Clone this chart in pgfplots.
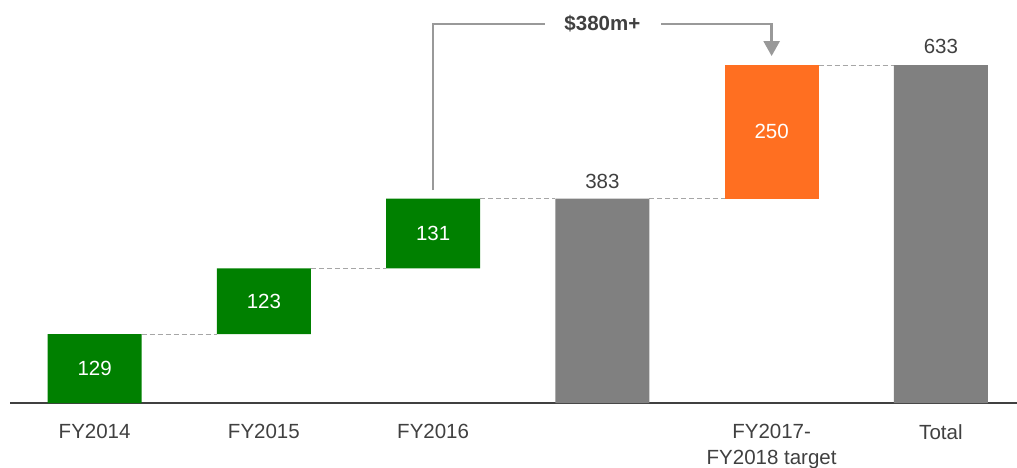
\documentclass[border=0pt]{standalone}
\usepackage{pgfplots}
\pgfplotsset{compat=1.18}
\usetikzlibrary{arrows.meta}
\usepackage{fontspec}
\setmainfont{Liberation Sans}
\definecolor{wgreen}{HTML}{008000}
\definecolor{wgrey}{HTML}{808080}
\definecolor{worange}{HTML}{FF6F21}
\definecolor{labelgray}{HTML}{404040}
\definecolor{dashgray}{HTML}{A6A6A6}
\definecolor{bracketgray}{HTML}{999999}
\tikzset{conn/.style={dashgray, line width=1pt, dash pattern=on 5pt off 3pt},
  vlab/.style={font=\fontsize{20.5}{24}\selectfont}}
\begin{document}
\begin{tikzpicture}
\begin{axis}[
  at={(0,0)}, anchor=south west,
  scale only axis, width=1007pt, height=403pt,
  xmin=-0.5, xmax=5.45, ymin=0, ymax=755,
  ybar stacked, bar width=94pt,
  axis x line*=bottom, hide y axis,
  x axis line style={draw=labelgray, line width=1.6pt},
  xtick={0,1,2,3,4,5},
  xticklabels={FY2014,FY2015,FY2016,{},{FY2017-\\FY2018 target},Total},
  xticklabel style={align=center, font=\fontsize{20.5}{26}\selectfont, text=labelgray, yshift=-18pt},
  major tick length=0pt,
  clip=false,
]
\addplot[draw=none, fill=none] coordinates {(0,0) (1,129) (2,252) (3,0) (4,383) (5,0)};
\addplot[draw=none, fill=wgreen] coordinates {(0,129) (1,123) (2,131) (3,0) (4,0) (5,0)};
\addplot[draw=none, fill=wgrey] coordinates {(0,0) (1,0) (2,0) (3,383) (4,0) (5,633)};
\addplot[draw=none, fill=worange] coordinates {(0,0) (1,0) (2,0) (3,0) (4,250) (5,0)};

\draw[conn] ([xshift=47pt]axis cs:0,129) -- ([xshift=-47pt]axis cs:1,129);
\draw[conn] ([xshift=47pt]axis cs:1,252) -- ([xshift=-47pt]axis cs:2,252);
\draw[conn] ([xshift=47pt]axis cs:2,383) -- ([xshift=-47pt]axis cs:3,383);
\draw[conn] ([xshift=47pt]axis cs:3,383) -- ([xshift=-47pt]axis cs:4,383);
\draw[conn] ([xshift=47pt]axis cs:4,633) -- ([xshift=-47pt]axis cs:5,633);

\coordinate (L1) at (axis cs:0,64.5);
\coordinate (L2) at (axis cs:1,190.5);
\coordinate (L3) at (axis cs:2,317.5);
\coordinate (L5) at (axis cs:4,508);
\coordinate (L4) at (axis cs:3,383);
\coordinate (L6) at (axis cs:5,633);

\draw[bracketgray, line width=2.6pt] (axis cs:2,399) -- (axis cs:2,710) -- (axis cs:2.662,710);
\draw[bracketgray, line width=2.6pt, -{Triangle[width=16pt,length=15pt]}] (axis cs:3.347,710) -- (axis cs:4,710) -- (axis cs:4,650);
\node[vlab, text=labelgray] at (axis cs:3,710) {\textbf{\$380m+}};
\end{axis}
\node[vlab, text=white] at (L1) {129};
\node[vlab, text=white] at (L2) {123};
\node[vlab, text=white] at (L3) {131};
\node[vlab, text=white] at (L5) {250};
\node[vlab, text=labelgray, yshift=17pt] at (L4) {383};
\node[vlab, text=labelgray, yshift=19pt] at (L6) {633};
\pgfresetboundingbox
\path (-10pt,-64pt) rectangle (1007pt,403pt);
\end{tikzpicture}
\end{document}
